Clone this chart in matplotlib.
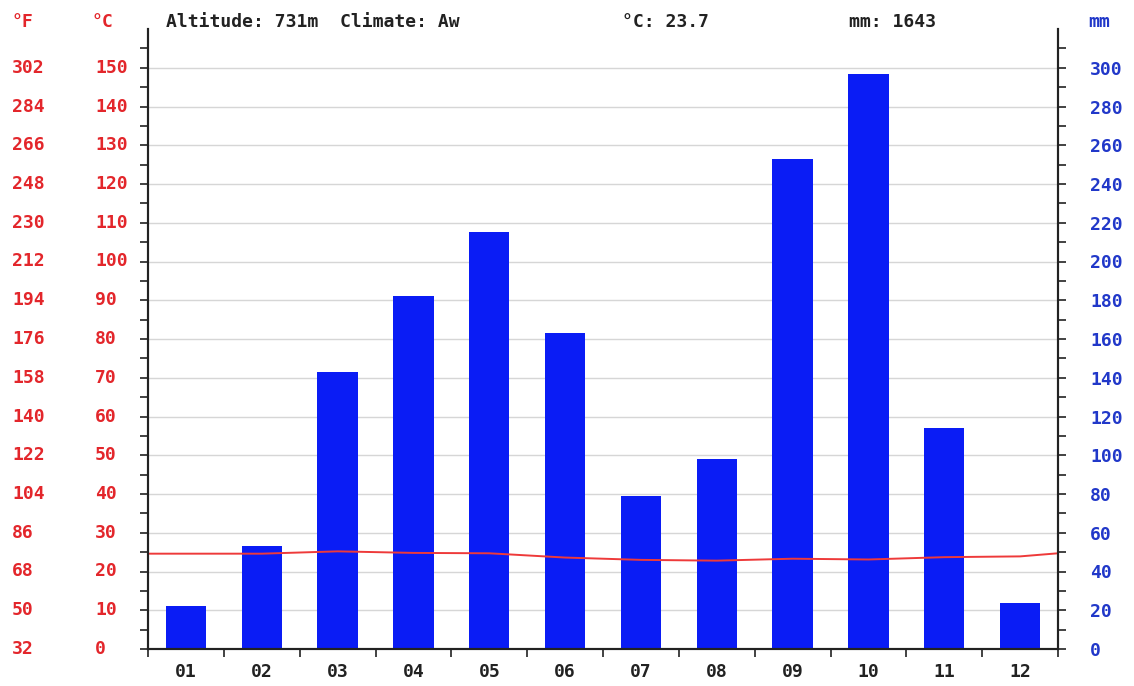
import numpy as np
import matplotlib.pyplot as plt
import matplotlib.transforms as mtransforms

# Klimadiagramm: Niederschlag (Balken) und Temperatur (Linie)
months = ['01', '02', '03', '04', '05', '06', '07', '08', '09', '10', '11', '12']
precip_mm = [22, 53, 143, 182, 215, 163, 79, 98, 253, 297, 114, 24]
temp_c = [24.6, 24.6, 25.2, 24.8, 24.7, 23.6, 23.0, 22.8, 23.3, 23.1, 23.7, 23.9]
temp_edges = [24.6, 24.7]  # Wert am linken / rechten Rand

c_ticks = list(range(0, 151, 10))
mm_ticks = list(range(0, 301, 20))

header_left = 'Altitude: 731m  Climate: Aw'
header_temp = '°C: 23.7'
header_mm = 'mm: 1643'

RED = '#e3262b'
BLUE = '#2138c9'
BAR = '#0a1cf5'
FONT = dict(family='DejaVu Sans Mono', weight='bold', size=13)

W, H = 1134, 686
fig = plt.figure(figsize=(W / 100, H / 100), dpi=100)
x0, x1, y0, y1 = 148, 1058, 649, 29
ax = fig.add_axes([x0 / W, 1 - y0 / H, (x1 - x0) / W, (y0 - y1) / H])
ax2 = ax.twinx()

x = np.arange(1, 13)

# Balken (mm) auf der rechten Achse
ax2.bar(x, precip_mm, width=0.53, color=BAR, zorder=2)
ax2.set_ylim(0, 320)
ax2.set_yticks(mm_ticks)
ax2.set_yticks(range(10, 320, 20), minor=True)
ax2.set_yticklabels([str(v) for v in mm_ticks], color=BLUE, **FONT)
ax2.tick_params(axis='y', which='both', direction='out', length=6, width=1.2, pad=17, colors='#222222')
ax2.tick_params(axis='y', labelcolor=BLUE)
ax2.yaxis.grid(True, color='#d6d6d6', linewidth=1.0, zorder=0)
ax2.set_axisbelow(True)

# Temperaturlinie (°C) auf der linken Achse, oben drauf
ax.set_zorder(ax2.get_zorder() + 1)
ax.patch.set_visible(False)
tx = np.concatenate([[0.5], x, [12.5]])
ty = np.concatenate([[temp_edges[0]], temp_c, [temp_edges[1]]])
ax.plot(tx, ty, color='#ee3a3a', linewidth=1.4)
ax.set_xlim(0.5, 12.5)
ax.set_ylim(0, 160)
ax.set_yticks(c_ticks)
ax.set_yticks(range(5, 160, 10), minor=True)
ax.set_yticklabels([])
ax.tick_params(axis='y', which='both', direction='out', length=6, width=1.2, colors='#222222')

# x-Achse: Striche an Monatsgrenzen, Beschriftung in der Mitte
ax.set_xticks(np.arange(0.5, 13, 1))
ax.set_xticklabels([])
ax.set_xticks(x, minor=True)
ax.set_xticklabels(months, minor=True, color='#222222', **FONT)
ax.tick_params(axis='x', which='major', direction='out', length=6, width=1.2, colors='#222222')
ax.tick_params(axis='x', which='minor', length=0, pad=10)

for a in (ax, ax2):
    a.spines['top'].set_visible(False)
    for s in ('left', 'right', 'bottom'):
        a.spines[s].set_linewidth(1.5)
        a.spines[s].set_color('#222222')

# linke Beschriftungen: °F und °C
trans = mtransforms.blended_transform_factory(fig.transFigure, ax.transData)
for c in c_ticks:
    f = int(round(c * 9 / 5 + 32))
    ax.text(12 / W, c, str(f), transform=trans, ha='left', va='center', color=RED, **FONT)
    ax.text(95 / W, c, str(c), transform=trans, ha='left', va='center', color=RED, **FONT)

# Kopfzeile
yh = 1 - 22 / H
fig.text(12 / W, yh, '°F', ha='left', va='center', color=RED, **FONT)
fig.text(91 / W, yh, '°C', ha='left', va='center', color=RED, **FONT)
fig.text(1088 / W, yh, 'mm', ha='left', va='center', color=BLUE, **FONT)
fig.text(166 / W, yh, header_left, ha='left', va='center', color='#222222', **FONT)
fig.text(622 / W, yh, header_temp, ha='left', va='center', color='#222222', **FONT)
fig.text(849 / W, yh, header_mm, ha='left', va='center', color='#222222', **FONT)

fig.savefig('out.png', dpi=100)
